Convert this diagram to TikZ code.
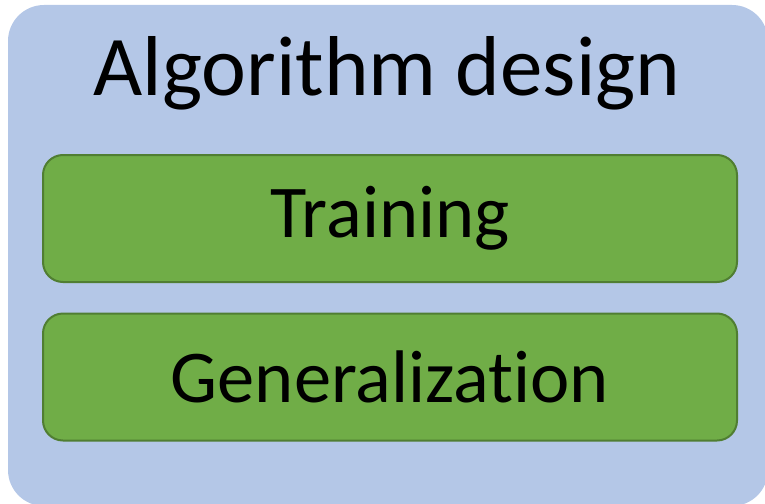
\documentclass[tikz,border=0pt]{standalone}
\usepackage{fontspec}
\setmainfont{Carlito}[Ligatures=NoCommon]
\usepackage{tikz}
\definecolor{paleblue}{HTML}{B4C7E7}
\definecolor{leaf}{HTML}{70AD47}
\definecolor{leafdark}{HTML}{507E32}
\tikzset{stage/.style={draw=leafdark,line width=2pt,fill=leaf,rounded corners=20pt,
  minimum width=694pt,minimum height=127pt,inner sep=0pt,font=\fontsize{74.5}{86}\selectfont},
  frame/.style={fill=paleblue,rounded corners=36pt}}

\begin{document}
\begin{tikzpicture}[x=1pt,y=1pt]
\useasboundingbox (0,0) rectangle (765,-503);
\fill[frame] (8,-5) rectangle (768,-506);
\node[anchor=base,font=\fontsize{85}{98}\selectfont] (title) at (387,-95) {Algorithm design};
\node[stage] (train) at (390,-218.5) {\raisebox{-12pt}{Training}};
\node[stage] (gen) at (390,-377) {\raisebox{-12pt}{Generalization}};
\end{tikzpicture}
\end{document}
